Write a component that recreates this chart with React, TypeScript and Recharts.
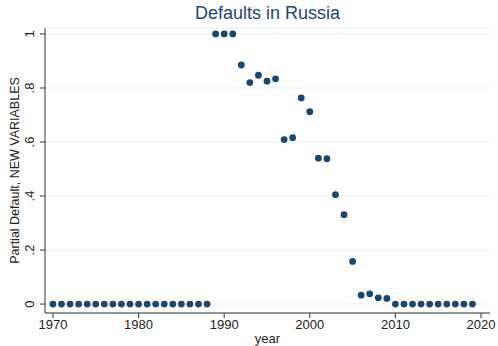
import { ScatterChart, Scatter, XAxis, YAxis, CartesianGrid } from 'recharts';

// share of debt in partial default, by year
const years = [
  1970, 1971, 1972, 1973, 1974, 1975, 1976, 1977, 1978, 1979,
  1980, 1981, 1982, 1983, 1984, 1985, 1986, 1987, 1988, 1989,
  1990, 1991, 1992, 1993, 1994, 1995, 1996, 1997, 1998, 1999,
  2000, 2001, 2002, 2003, 2004, 2005, 2006, 2007, 2008, 2009,
  2010, 2011, 2012, 2013, 2014, 2015, 2016, 2017, 2018, 2019,
];
const partialDefault = [
  0, 0, 0, 0, 0, 0, 0, 0, 0, 0,
  0, 0, 0, 0, 0, 0, 0, 0, 0, 1,
  1, 1, 0.885, 0.82, 0.847, 0.825, 0.834, 0.609, 0.616, 0.763,
  0.712, 0.54, 0.538, 0.405, 0.331, 0.158, 0.033, 0.038, 0.023, 0.021,
  0, 0, 0, 0, 0, 0, 0, 0, 0, 0,
];
const xTicks = [1970, 1980, 1990, 2000, 2010, 2020];
const yTicks = [0, 0.2, 0.4, 0.6, 0.8, 1];
const yTickLabels = ['0', '.2', '.4', '.6', '.8', '1'];

const data = years.map((year, i) => ({ year, value: partialDefault[i] }));

const NAVY = '#1a476f';
const FONT = 'Liberation Sans, Arial, sans-serif';

const YTick = (props: any) => {
  const { x, y, payload } = props;
  const idx = yTicks.indexOf(payload.value);
  return (
    <text
      x={x - 4}
      y={y}
      transform={`rotate(-90, ${x - 4}, ${y})`}
      textAnchor="middle"
      fontSize={13}
      fontFamily={FONT}
      fill="#222"
    >
      {idx >= 0 ? yTickLabels[idx] : payload.value}
    </text>
  );
};

const Dot = (props: any) => {
  const { cx, cy } = props;
  return <circle cx={cx} cy={cy} r={3.4} fill={NAVY} />;
};

export default function App() {
  return (
    <div style={{ position: 'absolute', left: 0, top: 0, width: 498, height: 346, background: '#fff' }}>
      <div
        style={{
          position: 'absolute',
          left: 45,
          width: 445,
          top: 3,
          textAlign: 'center',
          fontFamily: FONT,
          fontSize: 18,
          color: NAVY,
        }}
      >
        Defaults in Russia
      </div>
      <ScatterChart width={498} height={346} margin={{ top: 28, right: 8, bottom: 0, left: 0 }}>
        <CartesianGrid horizontal vertical={false} stroke="#e6eef0" />
        <XAxis
          type="number"
          dataKey="year"
          domain={[1969.07, 2021.05]}
          ticks={xTicks}
          allowDataOverflow
          height={33}
          stroke="#333"
          tickLine={{ stroke: '#333' }}
          tickSize={5}
          tick={{ fontSize: 13, fontFamily: FONT, fill: '#222' }}
          label={{ value: 'year', position: 'insideBottom', offset: 0, dy: -3, fontSize: 13, fontFamily: FONT, fill: '#222' }}
        />
        <YAxis
          type="number"
          dataKey="value"
          domain={[-0.033, 1.022]}
          ticks={yTicks}
          allowDataOverflow
          width={45}
          stroke="#333"
          tickSize={5}
          tick={<YTick />}
          label={{
            value: 'Partial Default, NEW VARIABLES',
            angle: -90,
            position: 'insideLeft',
            offset: 0,
            dx: 15,
            style: { textAnchor: 'middle' },
            fontSize: 12.5,
            fontFamily: FONT,
            fill: '#222',
          }}
        />
        <Scatter data={data} fill={NAVY} shape={<Dot />} isAnimationActive={false} />
      </ScatterChart>
    </div>
  );
}
